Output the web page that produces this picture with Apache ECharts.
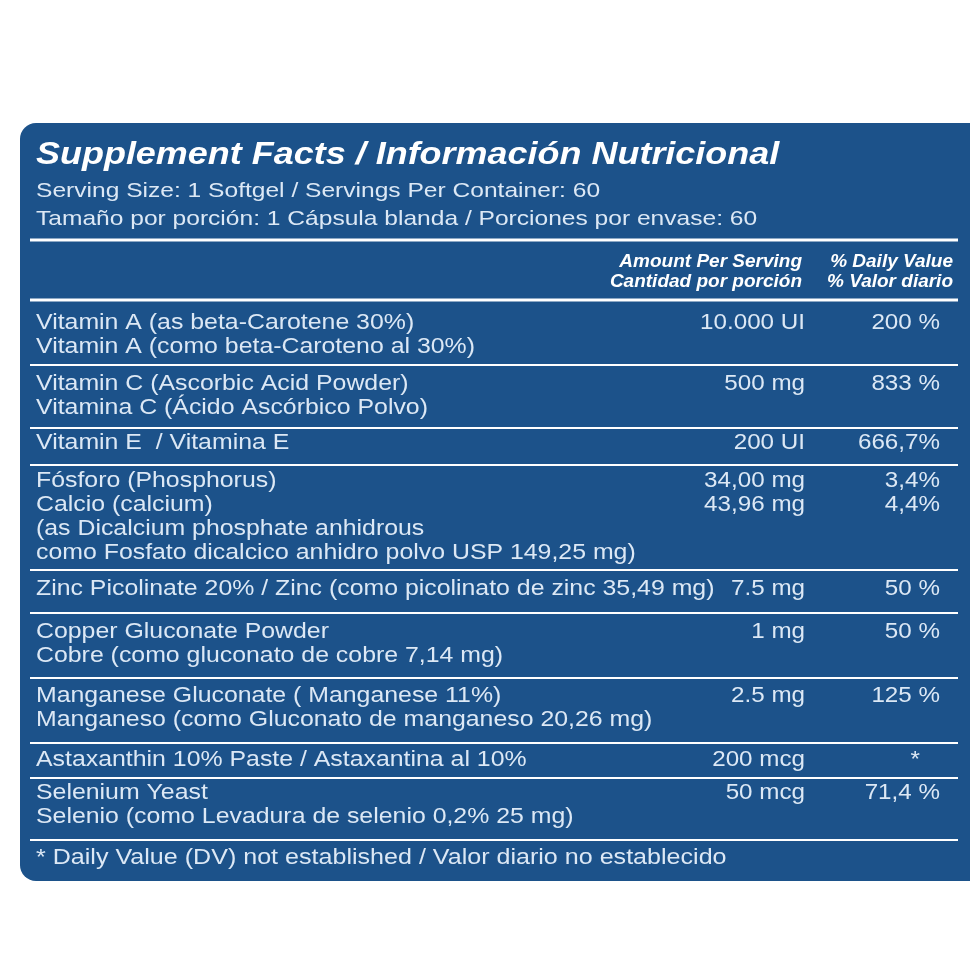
<!DOCTYPE html>
<html><head><meta charset="utf-8">
<script src="https://cdn.jsdelivr.net/npm/echarts@6/dist/echarts.min.js"></script>
<style>html,body{margin:0;background:#fff}#c{width:980px;height:980px}</style>
</head><body><div id="c"></div>
<script>
const title = "Supplement Facts / Información Nutricional";
const servingLines = ["Serving Size: 1 Softgel / Servings Per Container: 60","Tamaño por porción: 1 Cápsula blanda / Porciones por envase: 60"];
const headerAmount = ["Amount Per Serving","Cantidad por porción"];
const headerDV = ["% Daily Value","% Valor diario"];
const rowNames = [
 ["Vitamin A (as beta-Carotene 30%)","Vitamin A (como beta-Caroteno al 30%)"],
 ["Vitamin C (Ascorbic Acid Powder)","Vitamina C (Ácido Ascórbico Polvo)"],
 ["Vitamin E  / Vitamina E"],
 ["Fósforo (Phosphorus)","Calcio (calcium)","(as Dicalcium phosphate anhidrous","como Fosfato dicalcico anhidro polvo USP 149,25 mg)"],
 ["Zinc Picolinate 20% / Zinc (como picolinato de zinc 35,49 mg)"],
 ["Copper Gluconate Powder","Cobre (como gluconato de cobre 7,14 mg)"],
 ["Manganese Gluconate ( Manganese 11%)","Manganeso (como Gluconato de manganeso 20,26 mg)"],
 ["Astaxanthin 10% Paste / Astaxantina al 10%"],
 ["Selenium Yeast","Selenio (como Levadura de selenio 0,2% 25 mg)"]
];
const rowAmounts = [["10.000 UI"],["500 mg"],["200 UI"],["34,00 mg","43,96 mg"],["7.5 mg"],["1 mg"],["2.5 mg"],["200 mcg"],["50 mcg"]];
const rowDVs = [["200 %"],["833 %"],["666,7%"],["3,4%","4,4%"],["50 %"],["50 %"],["125 %"],["*"],["71,4 %"]];
const rowTops = [323,384,443,481,589,632,696,760,793];
const footnote = "* Daily Value (DV) not established / Valor diario no establecido";
const ruleYs = [240,300,365,428,465,570,613,678,743,778,840];

const C = "#dce8f5", BG = "#1c528a", F = "Liberation Sans, Arial, sans-serif";
const g = [];
function T(text,x,y,font,sx,align,fill){
  g.push({type:'text',x:x,y:y,scaleX:sx,style:{text:text,fill:fill||C,font:font,align:align||'left',verticalAlign:'middle'}});
}
g.push({type:'rect',shape:{x:20,y:123,width:950,height:758,r:[16,0,0,16]},style:{fill:BG}});
T(title,36,155,'italic bold 31px '+F,1.16,'left','#fff');
servingLines.forEach((t,i)=>T(t,36,191+i*28,'21px '+F,1.17));
ruleYs.forEach((y,i)=>g.push({type:'line',shape:{x1:30,y1:y,x2:958,y2:y},style:{stroke:'#fff',lineWidth:i<2?3:2}}));
headerAmount.forEach((t,i)=>T(t,802,262+i*20,'italic bold 19px '+F,1,'right','#fff'));
headerDV.forEach((t,i)=>T(t,953,262+i*20,'italic bold 19px '+F,1,'right','#fff'));
rowNames.forEach((lines,r)=>{
  lines.forEach((t,i)=>T(t,36,rowTops[r]+i*24,'22px '+F,1.13));
  rowAmounts[r].forEach((t,i)=>T(t,805,rowTops[r]+i*24,'22px '+F,1.1,'right'));
  rowDVs[r].forEach((t,i)=>T(t,rowDVs[r][0]==='*'?920:940,rowTops[r]+i*24,'22px '+F,1.1,'right'));
});
T(footnote,36,858,'22px '+F,1.14);
const chart = echarts.init(document.getElementById('c'));
chart.setOption({animation:false,graphic:{elements:g}});
</script></body></html>
